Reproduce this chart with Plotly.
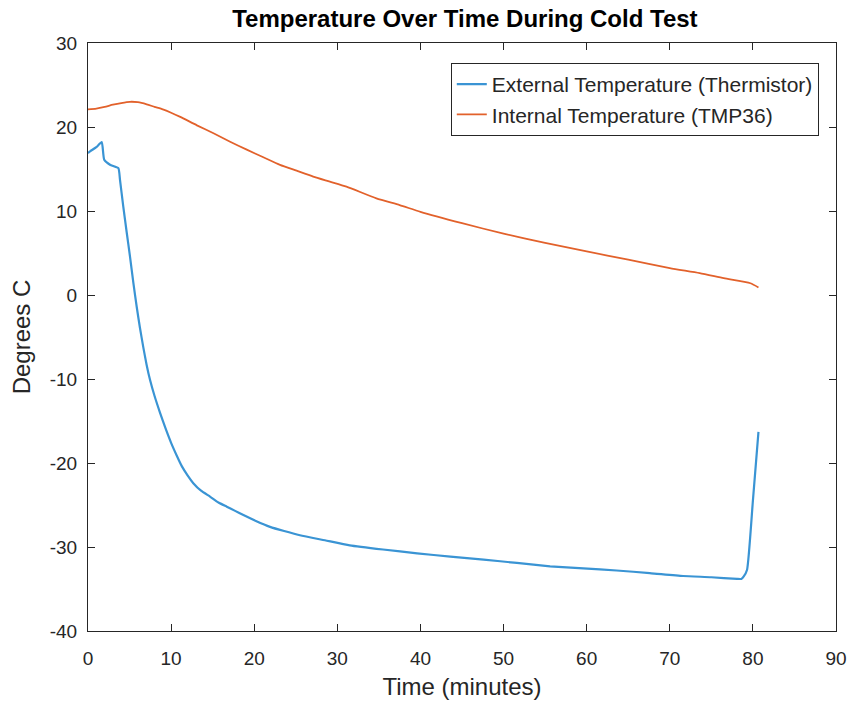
import plotly.graph_objects as go

# External temperature (thermistor)
ext_t = [0.0, 0.25, 1.0, 1.65, 1.95, 2.65, 3.65, 3.85, 4.25, 4.65, 5.05, 5.45, 5.86, 6.25, 6.65,
         7.05, 7.46, 8.0, 8.66, 9.3, 10.0, 10.67, 11.3, 12.0, 12.67, 13.6, 14.68, 15.7, 16.7,
         17.7, 18.7, 20.2, 21.9, 23.6, 25.5, 28.5, 31.5, 35.5, 39.6, 43.6, 47.6, 51.6, 55.6,
         59.6, 63.6, 67.6, 71.6, 75.0, 78.1, 78.6, 78.9, 79.3, 80.0, 80.67]
ext_y = [16.9, 17.1, 17.6, 18.2, 16.1, 15.5, 15.1, 13.7, 10.5, 7.5, 4.6, 1.5, -1.4, -3.9, -6.2,
         -8.3, -10.1, -12.0, -14.0, -15.8, -17.6, -19.1, -20.4, -21.5, -22.4, -23.3, -24.0,
         -24.7, -25.2, -25.7, -26.2, -26.9, -27.6, -28.1, -28.6, -29.2, -29.8, -30.3, -30.75,
         -31.15, -31.5, -31.9, -32.3, -32.55, -32.8, -33.1, -33.45, -33.6, -33.8, -33.8, -33.5,
         -32.7, -24.5, -16.3]

# Internal temperature (TMP36)
int_t = [0.0, 1.0, 2.0, 3.0, 4.0, 5.05, 6.0, 7.06, 8.0, 9.0, 10.0, 11.1, 13.1, 15.1, 17.1, 19.1,
         21.1, 23.1, 25.1, 27.1, 29.1, 31.1, 34.7, 37.5, 40.0, 45.0, 50.0, 55.0, 60.0, 65.0,
         70.0, 73.6, 76.5, 79.7, 80.67]
int_y = [22.1, 22.2, 22.4, 22.65, 22.85, 23.0, 22.95, 22.7, 22.4, 22.1, 21.7, 21.2, 20.2, 19.25,
         18.25, 17.3, 16.4, 15.5, 14.8, 14.1, 13.5, 12.9, 11.5, 10.7, 9.9, 8.55, 7.3, 6.2, 5.2,
         4.2, 3.2, 2.6, 2.0, 1.4, 0.9]

x_ticks = [0, 10, 20, 30, 40, 50, 60, 70, 80, 90]
y_ticks = [-40, -30, -20, -10, 0, 10, 20, 30]

txt = "#262626"
fnt = "Liberation Sans, Arial, sans-serif"

fig = go.Figure()
fig.add_trace(go.Scatter(x=ext_t, y=ext_y, mode="lines",
                         name="External Temperature (Thermistor)",
                         line=dict(color="#3A94D4", width=2.2, shape="spline", smoothing=0.5)))
fig.add_trace(go.Scatter(x=int_t, y=int_y, mode="lines",
                         name="Internal Temperature (TMP36)",
                         line=dict(color="#E2612B", width=1.8, shape="spline", smoothing=0.6)))

axis_common = dict(showgrid=False, zeroline=False, showline=True, linecolor=txt,
                   linewidth=1, mirror="ticks", ticks="inside", ticklen=7,
                   tickcolor=txt, tickwidth=1, automargin=False,
                   tickfont=dict(family=fnt, size=19, color=txt))

fig.update_layout(
    width=853, height=704,
    margin=dict(l=88, r=17, t=43, b=73),
    paper_bgcolor="white", plot_bgcolor="white",
    title=dict(text="<b>Temperature Over Time During Cold Test</b>",
               x=0.545, xanchor="center", y=0.973, yanchor="middle",
               font=dict(family=fnt, size=24, color="black")),
    xaxis=dict(range=[0, 90], tickvals=x_ticks, ticktext=[str(v) for v in x_ticks],
               ticklabelstandoff=10,
               title=dict(text="Time (minutes)", standoff=10,
                          font=dict(family=fnt, size=24, color=txt)),
               **axis_common),
    yaxis=dict(range=[-40, 30], tickvals=y_ticks, ticktext=[str(v) for v in y_ticks],
               ticklabelstandoff=6,
               title=dict(text="Degrees C", standoff=12,
                          font=dict(family=fnt, size=24, color=txt)),
               **axis_common),
    legend=dict(x=0.977, xanchor="right", y=0.966, yanchor="top",
                bgcolor="white", bordercolor=txt, borderwidth=1,
                font=dict(family=fnt, size=21, color=txt),
                tracegroupgap=0),
    showlegend=True,
)

fig.write_html("out.html")
